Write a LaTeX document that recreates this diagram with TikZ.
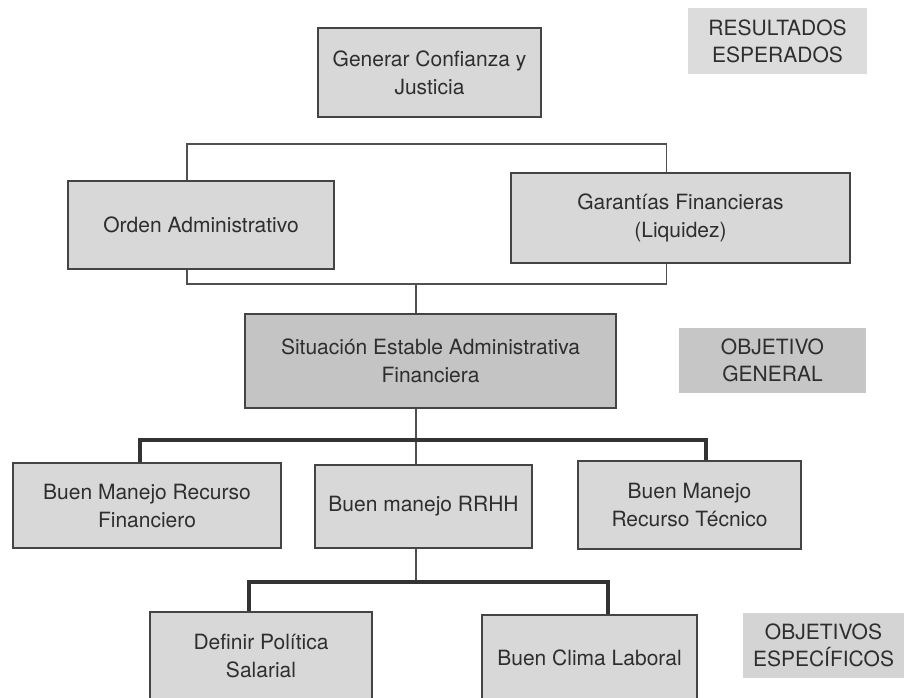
\documentclass[tikz,border=0pt]{standalone}
\usepackage{fontspec}
\setmainfont{TeX Gyre Heros}
\usetikzlibrary{positioning,calc}
\definecolor{cajagris}{HTML}{D8D8D8}
\definecolor{centralgris}{HTML}{C4C4C4}
\definecolor{bordegris}{HTML}{444444}
\definecolor{textogris}{HTML}{2E2E2E}
\definecolor{lineagris}{HTML}{505050}
\definecolor{barragris}{HTML}{333333}
\definecolor{resgris}{HTML}{DCDCDC}
\definecolor{objgris}{HTML}{C6C6C6}
\definecolor{espgris}{HTML}{D4D4D4}

\begin{document}
\begin{tikzpicture}[x=1pt,y=-1pt,
    caja/.style={rectangle,draw=bordegris,line width=1.6pt,fill=cajagris,text=textogris,align=center,inner sep=0pt,font=\fontsize{21}{28}\selectfont},
    etiqueta/.style={rectangle,fill=#1,text=textogris,align=center,inner sep=0pt,font=\fontsize{21}{27}\selectfont},
    linea/.style={draw=lineagris,line width=1.5pt},
    barra/.style={draw=barragris,line width=3.5pt}]
        \useasboundingbox (0,0) rectangle (904,697);
        \clip (0,0) rectangle (904,697);
        % resultados esperados
        \node[caja,minimum width = 223pt,minimum height = 89pt,anchor=center] at (429.5,72.5) (GEN) {Generar Confianza y\\Justicia};
        \node[caja,minimum width = 266pt,minimum height = 88pt,anchor=center] at (201,225) (ORD) {Orden Administrativo};
        \node[caja,minimum width = 339pt,minimum height = 90pt,anchor=center] at (680.5,218) (GAR) {Garantías Financieras\\(Liquidez)};
        % objetivo general
        \node[caja,fill=centralgris,minimum width = 371pt,minimum height = 94pt,anchor=center] at (430.5,361) (SIT) {Situación Estable Administrativa\\Financiera};
        % objetivos especificos
        \node[caja,minimum width = 268pt,minimum height = 85pt,anchor=center] at (147,505.5) (FIN) {Buen Manejo Recurso\\Financiero};
        \node[caja,minimum width = 217pt,minimum height = 83pt,anchor=center] at (423.5,506.5) (RH) {Buen manejo RRHH};
        \node[caja,minimum width = 223pt,minimum height = 88pt,anchor=center] at (689.5,505) (TEC) {Buen Manejo\\Recurso Técnico};
        \node[caja,minimum width = 222pt,minimum height = 88pt,anchor=center] at (261,656) (SAL) {Definir Política\\Salarial};
        \node[caja,minimum width = 215pt,minimum height = 85pt,anchor=center] at (589.5,657.5) (CLI) {Buen Clima Laboral};
        % etiquetas
        \node[etiqueta=resgris,minimum width = 179pt,minimum height = 66pt,anchor=center] at (777.5,41) (RES) {RESULTADOS\\ESPERADOS};
        \node[etiqueta=objgris,minimum width = 187pt,minimum height = 65pt,anchor=center] at (772.5,360.5) (OBG) {OBJETIVO\\GENERAL};
        \node[etiqueta=espgris,minimum width = 161pt,minimum height = 65pt,anchor=center] at (823.5,645.5) (OBE) {OBJETIVOS\\ESPECÍFICOS};
        % conectores
        \coordinate (B1) at (426,144);
        \coordinate (B2) at (416,284);
        \coordinate (B3) at (416,440);
        \coordinate (B4) at (416,582);
        \draw [linea] ([xshift=-14pt]ORD.north) |- (B1) -| ([xshift=-14pt]GAR.north);
        \draw [linea] ([xshift=-14pt]ORD.south) |- (B2) -| ([xshift=-14pt]GAR.south);
        \draw [linea] (B2)--(B2 |- SIT.north);
        \draw [linea] (B3 |- SIT.south)--(B3 |- RH.north);
        \draw [barra] ([xshift=-7pt]FIN.north) |- (B3) -| ([xshift=16.5pt]TEC.north);
        \draw [linea] (B4 |- RH.south)--(B4);
        \draw [barra] ([xshift=-12pt]SAL.north) |- (B4) -| ([xshift=18.5pt]CLI.north);
    \end{tikzpicture}
\end{document}
